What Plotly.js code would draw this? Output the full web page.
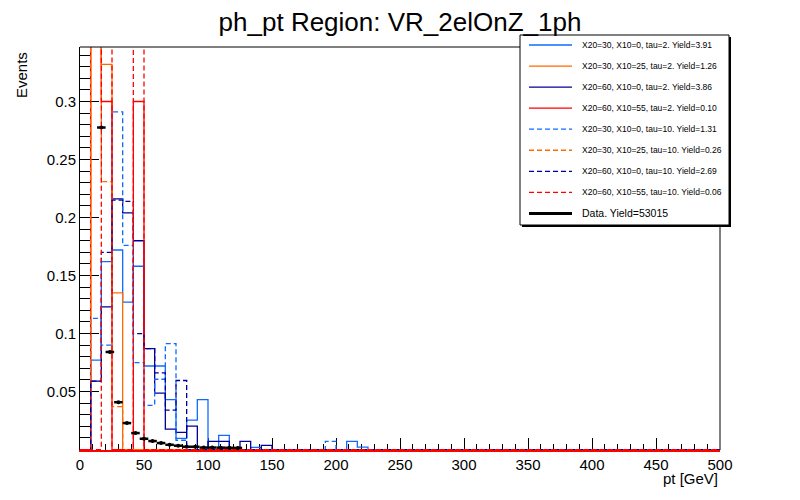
<!DOCTYPE html>
<html>
<head>
<meta charset="utf-8">
<script src="https://cdn.plot.ly/plotly-3.0.1.min.js"></script>
<style>
  html, body { margin: 0; padding: 0; background: #fff; }
  #chart { width: 800px; height: 500px; }
</style>
</head>
<body>
<div id="chart"></div>
<script>
// ---- binning (signal histograms: 60 bins, data: 75 bins, 0-500 GeV) ----
const sigBinLo = 0, sigBinHi = 500, sigBinCount = 60;
const dataBinLo = 0, dataBinHi = 500, dataBinCount = 75;

// ---- series names / legend labels ----
const seriesLabels = [
  "X20=30, X10=0, tau=2. Yield=3.91",
  "X20=30, X10=25, tau=2. Yield=1.26",
  "X20=60, X10=0, tau=2. Yield=3.86",
  "X20=60, X10=55, tau=2. Yield=0.10",
  "X20=30, X10=0, tau=10. Yield=1.31",
  "X20=30, X10=25, tau=10. Yield=0.26",
  "X20=60, X10=0, tau=10. Yield=2.69",
  "X20=60, X10=55, tau=10. Yield=0.06"
];
const dataLabel = "Data. Yield=53015";

// ---- normalised bin contents ----
const sig_30_0_tau2 = [
  0, 0.077, 0.162, 0.172, 0.127, 0.158, 0.072, 0.072, 0.043, 0.0096,
  0.0254, 0.043, 0, 0.0122, 0, 0, 0.0019, 0, 0, 0,
  0, 0, 0, 0, 0, 0.007, 0.002, 0, 0, 0,
  0, 0, 0, 0, 0, 0, 0, 0, 0, 0,
  0, 0, 0, 0, 0, 0, 0, 0, 0, 0,
  0, 0, 0, 0, 0, 0, 0, 0, 0, 0
];
const sig_30_25_tau2 = [
  0, 0.53, 0.332, 0.135, 0, 0, 0, 0, 0, 0,
  0, 0, 0, 0, 0, 0, 0, 0, 0, 0,
  0, 0, 0, 0, 0, 0, 0, 0, 0, 0,
  0, 0, 0, 0, 0, 0, 0, 0, 0, 0,
  0, 0, 0, 0, 0, 0, 0, 0, 0, 0,
  0, 0, 0, 0, 0, 0, 0, 0, 0, 0
];
const sig_60_0_tau2 = [
  0, 0.059, 0.123, 0.216, 0.204, 0.18, 0.087, 0.0486, 0.0176, 0.0148,
  0.0202, 0, 0.007, 0.007, 0, 0.007, 0, 0.0036, 0, 0,
  0, 0, 0, 0, 0, 0, 0, 0, 0, 0,
  0, 0, 0, 0, 0, 0, 0, 0, 0, 0,
  0, 0, 0, 0, 0, 0, 0, 0, 0, 0,
  0, 0, 0, 0, 0, 0, 0, 0, 0, 0
];
const sig_60_55_tau2 = [
  0, 0.40, 0.30, 0, 0, 0.30, 0, 0, 0, 0,
  0, 0, 0, 0, 0, 0, 0, 0, 0, 0,
  0, 0, 0, 0, 0, 0, 0, 0, 0, 0,
  0, 0, 0, 0, 0, 0, 0, 0, 0, 0,
  0, 0, 0, 0, 0, 0, 0, 0, 0, 0,
  0, 0, 0, 0, 0, 0, 0, 0, 0, 0
];
const sig_30_0_tau10 = [
  0, 0.113, 0.090, 0.291, 0.176, 0.075, 0.038, 0.0606, 0.0913, 0.008,
  0, 0, 0, 0, 0, 0, 0, 0, 0, 0,
  0, 0, 0, 0.007, 0, 0, 0, 0, 0, 0,
  0, 0, 0, 0, 0, 0, 0, 0, 0, 0,
  0, 0, 0, 0, 0, 0, 0, 0, 0, 0,
  0, 0, 0, 0, 0, 0, 0, 0, 0, 0
];
const sig_30_25_tau10 = [
  0, 0.73, 0.231, 0.037, 0, 0, 0, 0, 0, 0,
  0, 0, 0, 0, 0, 0, 0, 0, 0, 0,
  0, 0, 0, 0, 0, 0, 0, 0, 0, 0,
  0, 0, 0, 0, 0, 0, 0, 0, 0, 0,
  0, 0, 0, 0, 0, 0, 0, 0, 0, 0,
  0, 0, 0, 0, 0, 0, 0, 0, 0, 0
];
const sig_60_0_tau10 = [
  0, 0.059, 0.170, 0.215, 0.214, 0.10, 0.087, 0.066, 0.034, 0.0595,
  0, 0, 0, 0, 0, 0, 0, 0, 0, 0,
  0, 0, 0, 0, 0, 0, 0, 0, 0, 0,
  0, 0, 0, 0, 0, 0, 0, 0, 0, 0,
  0, 0, 0, 0, 0, 0, 0, 0, 0, 0,
  0, 0, 0, 0, 0, 0, 0, 0, 0, 0
];
const sig_60_55_tau10 = [
  0, 0, 0.5, 0, 0, 0.5, 0, 0, 0, 0,
  0, 0, 0, 0, 0, 0, 0, 0, 0, 0,
  0, 0, 0, 0, 0, 0, 0, 0, 0, 0,
  0, 0, 0, 0, 0, 0, 0, 0, 0, 0,
  0, 0, 0, 0, 0, 0, 0, 0, 0, 0,
  0, 0, 0, 0, 0, 0, 0, 0, 0, 0
];
const dataValues = [
  0, 0.52, 0.2776, 0.0841, 0.0408, 0.0228, 0.0142, 0.0093, 0.0073, 0.0056,
  0.0041, 0.0033, 0.0024, 0.0024, 0.0017, 0.0017, 0.0016, 0.0015, 0.0014, 0,
  0, 0, 0, 0, 0, 0, 0, 0, 0, 0,
  0, 0, 0, 0, 0, 0, 0, 0, 0, 0,
  0, 0, 0, 0, 0, 0, 0, 0, 0, 0,
  0, 0, 0, 0, 0, 0, 0, 0, 0, 0,
  0, 0, 0, 0, 0, 0, 0, 0, 0, 0,
  0, 0, 0, 0, 0
];

// ---- tick labels ----
const xTickVals = [0, 50, 100, 150, 200, 250, 300, 350, 400, 450, 500];
const yTickVals = [0, 0.05, 0.1, 0.15, 0.2, 0.25, 0.3];
const yTickText = ["", "0.05", "0.1", "0.15", "0.2", "0.25", "0.3"];

// ---- styles ----
const LIGHTBLUE = "#0f6bff", ORANGE = "#ff6a00", NAVY = "#000099", RED = "#ff0000";
const DASH = "5px,3px";
const seriesValues = [sig_30_0_tau2, sig_30_25_tau2, sig_60_0_tau2, sig_60_55_tau2,
                      sig_30_0_tau10, sig_30_25_tau10, sig_60_0_tau10, sig_60_55_tau10];
const seriesStyles = [
  {color: LIGHTBLUE, dash: "solid"}, {color: ORANGE, dash: "solid"},
  {color: NAVY, dash: "solid"}, {color: RED, dash: "solid"},
  {color: LIGHTBLUE, dash: DASH}, {color: ORANGE, dash: DASH},
  {color: NAVY, dash: DASH}, {color: RED, dash: DASH}
];

const sigW = (sigBinHi - sigBinLo) / sigBinCount;
const dataW = (dataBinHi - dataBinLo) / dataBinCount;

const traces = seriesValues.map((vals, k) => {
  const x = [], y = [];
  for (let i = 0; i <= vals.length; i++) {
    x.push(sigBinLo + i * sigW);
    y.push(vals[Math.min(i, vals.length - 1)]);
  }
  return {
    type: "scatter", mode: "lines", name: seriesLabels[k],
    x: x, y: y,
    line: {shape: "hv", color: seriesStyles[k].color, width: 1.3, dash: seriesStyles[k].dash},
    hoverinfo: "skip"
  };
});

const dx = [], dy = [];
dataValues.forEach((v, i) => { if (v > 0) { dx.push(dataBinLo + (i + 0.5) * dataW); dy.push(v); } });
traces.push({
  type: "scatter", mode: "markers", name: dataLabel,
  x: dx, y: dy,
  marker: {symbol: "circle", size: 4, color: "#000"},
  error_x: {type: "constant", value: dataW / 2, thickness: 2.5, width: 0, color: "#000"},
  hoverinfo: "skip"
});

// ---- layout geometry (pixels) ----
const W = 800, H = 500;
const M = {l: 80, r: 80, t: 47, b: 50};
const PW = W - M.l - M.r, PH = H - M.t - M.b;
const px = v => (v - M.l) / PW;
const py = v => (H - M.b - v) / PH;

const shapes = [];
const annotations = [];

// frame (top and right); listed first so the legend box covers it
shapes.push({type: "line", xref: "paper", yref: "paper", layer: "above",
  x0: 0, x1: 1, y0: 1, y1: 1, line: {color: "#000", width: 1}});
shapes.push({type: "line", xref: "paper", yref: "paper", layer: "above",
  x0: 1, x1: 1, y0: 0, y1: 1, line: {color: "#000", width: 1}});

// legend box with shadow
shapes.push({type: "rect", xref: "paper", yref: "paper", layer: "above",
  x0: px(522), x1: px(731), y0: py(227), y1: py(37), fillcolor: "#000", opacity: 1, line: {width: 0}});
shapes.push({type: "rect", xref: "paper", yref: "paper", layer: "above",
  x0: px(520), x1: px(729), y0: py(225), y1: py(35), fillcolor: "#ffffff", opacity: 1, line: {color: "#000", width: 1}});

const legendItems = seriesLabels.map((t, k) => ({text: t, color: seriesStyles[k].color, dash: seriesStyles[k].dash, width: 1.3, size: 8.5}));
legendItems.push({text: dataLabel, color: "#000", dash: "solid", width: 3, size: 10.5});
legendItems.forEach((it, i) => {
  const rowY = 45 + i * 21.05;
  shapes.push({type: "line", xref: "paper", yref: "paper", layer: "above",
    x0: px(529), x1: px(572), y0: py(rowY), y1: py(rowY),
    line: {color: it.color, width: it.width, dash: it.dash}});
  annotations.push({xref: "paper", yref: "paper", x: px(580), y: py(rowY),
    xanchor: "left", yanchor: "middle", showarrow: false, text: it.text,
    font: {size: it.size, color: "#000"}});
});

// axis titles (ROOT style: right/top aligned)
annotations.push({xref: "paper", yref: "paper", x: px(720), y: py(479), xanchor: "right", yanchor: "middle",
  showarrow: false, text: "pt [GeV]", font: {size: 15, color: "#000"}});
annotations.push({xref: "paper", yref: "paper", x: px(21), y: py(75), xanchor: "center", yanchor: "middle",
  showarrow: false, text: "Events", textangle: -90, font: {size: 15, color: "#000"}});

const layout = {
  width: W, height: H,
  margin: M,
  paper_bgcolor: "#fff", plot_bgcolor: "#fff",
  font: {family: "Liberation Sans, Arial, Helvetica, sans-serif", size: 15, color: "#000"},
  showlegend: false,
  title: {text: "ph_pt Region: VR_2elOnZ_1ph", font: {size: 26, color: "#000"},
          x: 0.5, xref: "container", xanchor: "center", y: 1 - 22 / H, yref: "container", yanchor: "middle"},
  xaxis: {
    range: [sigBinLo, sigBinHi], tickmode: "array", tickvals: xTickVals,
    ticks: "inside", ticklen: 12, tickwidth: 1, tickcolor: "#000",
    minor: {tickmode: "linear", tick0: 0, dtick: 10, ticks: "inside", ticklen: 6, tickcolor: "#000", tickwidth: 1},
    showline: true, linecolor: RED, linewidth: 1.5, mirror: false,
    showgrid: false, zeroline: false, layer: "below traces",
    tickfont: {size: 15, color: "#000"}
  },
  yaxis: {
    range: [-0.0004, 0.347], tickmode: "array", tickvals: yTickVals, ticktext: yTickText,
    ticks: "inside", ticklen: 19, tickwidth: 1, tickcolor: "#000",
    minor: {tickmode: "linear", tick0: 0, dtick: 0.01, ticks: "inside", ticklen: 10, tickcolor: "#000", tickwidth: 1},
    showline: true, linecolor: "#000", linewidth: 1, mirror: false,
    showgrid: false, zeroline: false, layer: "below traces",
    tickfont: {size: 15, color: "#000"}
  },
  shapes: shapes,
  annotations: annotations
};

Plotly.newPlot("chart", traces, layout, {staticPlot: true, displayModeBar: false});
</script>
</body>
</html>
